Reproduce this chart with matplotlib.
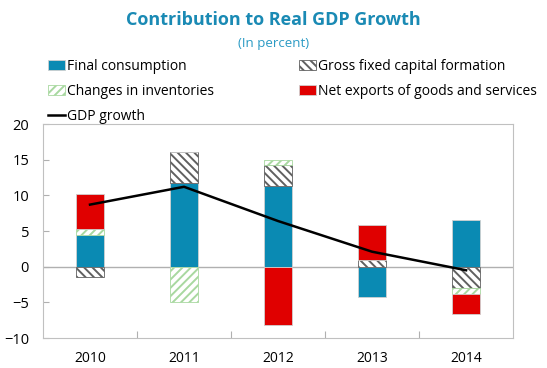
import matplotlib.pyplot as plt
import numpy as np

years = ["2010", "2011", "2012", "2013", "2014"]
final_consumption = [4.5, 11.8, 11.3, -4.3, 6.5]
gross_fixed_capital = [-1.4, 4.3, 3.0, 0.9, -3.0]
inventories = [0.8, -5.0, 0.7, 0.0, -0.8]
net_exports = [4.9, 0.0, -8.2, 4.9, -2.8]
gdp_growth = [8.7, 11.2, 6.4, 2.1, -0.5]

plt.rcParams['font.family'] = ['Open Sans', 'DejaVu Sans']
plt.rcParams['hatch.linewidth'] = 1.4

fig = plt.figure(figsize=(5.47, 3.68), dpi=100)
ax = fig.add_axes([0.0786, 0.0815, 0.8594, 0.5815])

x = np.arange(len(years))
width = 0.29

series = [
    (final_consumption, "Final consumption", dict(color="#0A8AB3", edgecolor="#d0d0d0")),
    (gross_fixed_capital, "Gross fixed capital formation",
     dict(color="white", edgecolor="#606060", hatch="\\\\\\\\")),
    (inventories, "Changes in inventories",
     dict(color="white", edgecolor="#a8d8a0", hatch="////")),
    (net_exports, "Net exports of goods and services", dict(color="#E00000", edgecolor="#d0d0d0")),
]

# stack positives upward and negatives downward
pos = np.zeros(len(years))
neg = np.zeros(len(years))
handles = []
for vals, label, style in series:
    vals = np.array(vals, dtype=float)
    bottom = np.where(vals >= 0, pos, neg)
    b = ax.bar(x, vals, width, bottom=bottom, label=label, linewidth=0.6, **style)
    handles.append(b)
    pos = pos + np.where(vals >= 0, vals, 0)
    neg = neg + np.where(vals < 0, vals, 0)

line, = ax.plot(x, gdp_growth, color="black", linewidth=1.8, label="GDP growth")

ax.axhline(0, color="#b0b0b0", linewidth=1, zorder=0.5)

ax.set_xlim(-0.5, len(years) - 0.5)
ax.set_ylim(-10, 20)
ax.set_yticks(range(-10, 21, 5))
ax.set_xticks(x)
ax.set_xticklabels(years)
ax.tick_params(axis='x', length=0, pad=9, labelsize=10)
ax.tick_params(axis='y', direction='in', length=4, color="#b0b0b0", labelsize=10.5, pad=10)
for s in ax.spines.values():
    s.set_color("#c0c0c0")

# category separators on the zero line
sec = ax.secondary_xaxis(0)
sec.set_xticks(x[:-1] + 0.5)
sec.set_xticklabels([])
sec.tick_params(direction='in', length=5, color="#b0b0b0")
sec.spines['bottom'].set_visible(False)

fig.text(0.5, 0.945, "Contribution to Real GDP Growth", ha="center", va="center",
         fontsize=13, fontweight="bold", color="#1A8AB4")
fig.text(0.5, 0.883, "(In percent)", ha="center", va="center", fontsize=9.5, color="#2A9AC4")

fig.legend(handles=[handles[0], handles[2], line, handles[1], handles[3]],
           loc="upper left", bbox_to_anchor=(0.087, 0.84), ncol=2, frameon=False,
           fontsize=10, handlelength=1.25, handleheight=0.75, handletextpad=0.15,
           columnspacing=6.1, labelspacing=0.72, borderaxespad=0, borderpad=0)

fig.savefig("out.png", dpi=100)
